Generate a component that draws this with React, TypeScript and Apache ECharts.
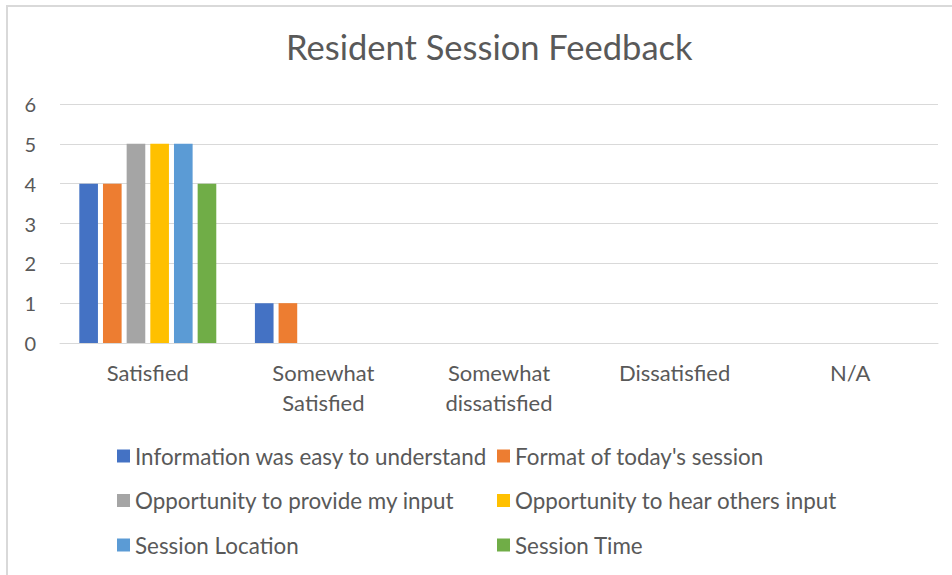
import React, { useEffect, useRef } from "react";
import * as echarts from "echarts";

const categories = ["Satisfied", "Somewhat\nSatisfied", "Somewhat\ndissatisfied", "Dissatisfied", "N/A"];
const seriesNames = [
  "Information was easy to understand",
  "Format of today's session",
  "Opportunity to provide my input",
  "Opportunity to hear others input",
  "Session Location",
  "Session Time",
];
const infoEasy = [4, 1, 0, 0, 0];
const formatToday = [4, 1, 0, 0, 0];
const provideInput = [5, 0, 0, 0, 0];
const hearOthers = [5, 0, 0, 0, 0];
const sessionLocation = [5, 0, 0, 0, 0];
const sessionTime = [4, 0, 0, 0, 0];
const seriesValues = [infoEasy, formatToday, provideInput, hearOthers, sessionLocation, sessionTime];
const colors = ["#4472C4", "#ED7D31", "#A5A5A5", "#FFC000", "#5B9BD5", "#70AD47"];

const FONT = "Lato";
const TEXT = "#595959";

export default function App() {
  const ref = useRef<HTMLDivElement>(null);
  useEffect(() => {
    const chart = echarts.init(ref.current!, null, { renderer: "svg" });
    const legendCommon = {
      orient: "vertical" as const,
      padding: 0,
      itemWidth: 13,
      itemHeight: 13,
      itemGap: 22.5,
      icon: "rect",
      textStyle: { color: TEXT, fontFamily: FONT, fontSize: 22.4, lineHeight: 22 },
    };
    chart.setOption({
      animation: false,
      color: colors,
      title: {
        text: "Resident Session Feedback",
        left: 286,
        top: 29,
        padding: 0,
        textStyle: { color: TEXT, fontFamily: FONT, fontSize: 34.5, fontWeight: "normal" },
      },
      graphic: [
        {
          type: "rect",
          shape: { x: 7, y: 6, width: 1000, height: 1000 },
          style: { fill: "none", stroke: "#d9d9d9", lineWidth: 2 },
          silent: true,
        },
      ],
      legend: [
        { ...legendCommon, left: 117, top: 445, data: [seriesNames[0], seriesNames[2], seriesNames[4]] },
        { ...legendCommon, left: 497, top: 445, data: [seriesNames[1], seriesNames[3], seriesNames[5]] },
      ],
      grid: { left: 60, right: 14, top: 104, bottom: 232, containLabel: false },
      xAxis: {
        type: "category",
        data: categories,
        axisLine: { lineStyle: { color: "#d9d9d9", width: 1 } },
        axisTick: { show: false },
        axisLabel: { color: TEXT, fontFamily: FONT, fontSize: 22, lineHeight: 30, margin: 14 },
      },
      yAxis: {
        type: "value",
        min: 0,
        max: 6,
        interval: 1,
        axisLine: { show: false },
        axisTick: { show: false },
        splitLine: { lineStyle: { color: "#d9d9d9", width: 1 } },
        axisLabel: { color: TEXT, fontFamily: FONT, fontSize: 20, margin: 24 },
      },
      series: seriesNames.map((name, i) => ({
        name,
        type: "bar",
        data: seriesValues[i],
        barGap: "27%",
        barCategoryGap: "22%",
      })),
    });
    return () => chart.dispose();
  }, []);
  return (
    <div
      ref={ref}
      style={{ position: "absolute", left: 0, top: 0, width: 952, height: 575, background: "#fff" }}
    />
  );
}
